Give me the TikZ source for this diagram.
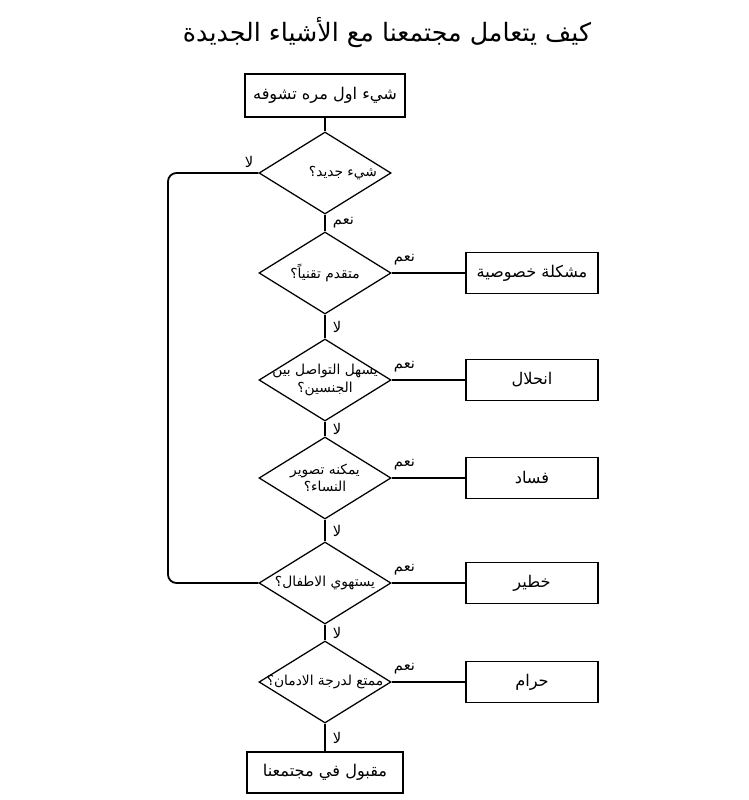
\documentclass[tikz,border=0pt]{standalone}
\usepackage{fontspec}
\newfontfamily\arabicfont[Script=Arabic]{DejaVu Sans}
\TeXXeTstate=1
\usetikzlibrary{shapes.geometric,positioning}

\begin{document}
\begin{tikzpicture}[x=0.025cm,y=-0.025cm,
		box/.style={draw,line width=0.9pt,minimum width=4cm,minimum height=1.07cm,font=\arabicfont\fontsize{11.5}{13}\selectfont},
		sidebox/.style={box,minimum width=3.3cm,minimum height=1.03cm},
		question/.style={draw,diamond,line width=0.9pt,inner sep=0pt,minimum width=3.3cm,minimum height=2.05cm},
		qtext/.style={align=center,inner sep=0pt,font=\arabicfont\fontsize{9.8}{12.5}\selectfont},
		answer/.style={inner sep=1pt,font=\arabicfont\fontsize{10.5}{12}\selectfont},
		link/.style={line width=1.3pt}]
			%%%%% START %%%%%
			\def\xmid{325}
			\def\xside{532}
			\def\xloop{168}
			\def\ystart{95.5}
			\def\yone{173}
			\def\ytwo{273}
			\def\ythree{380}
			\def\yfour{478}
			\def\yfive{583}
			\def\ysix{682}
			\def\yend{772.5}

			\useasboundingbox (0,0) rectangle (748,800);

			\node[font=\arabicfont\fontsize{18}{22}\selectfont] (title) at (387,33) {\beginR كيف يتعامل مجتمعنا مع الأشياء الجديدة\endR};

			\node[box] (start) at (\xmid,\ystart) {\beginR شيء اول مره تشوفه\endR};
			\node[question,label={[qtext,xshift=0.45cm]center:{\beginR شيء جديد؟\endR}}] (qone) at (\xmid,\yone) {};
			\node[question,label={[qtext]center:{\beginR متقدم تقنياً؟\endR}}] (qtwo) at (\xmid,\ytwo) {};
			\node[question,label={[qtext]center:{\beginR يسهل التواصل بين\endR\\\beginR الجنسين؟\endR}}] (qthree) at (\xmid,\ythree) {};
			\node[question,label={[qtext]center:{\beginR يمكنه تصوير\endR\\\beginR النساء؟\endR}}] (qfour) at (\xmid,\yfour) {};
			\node[question,label={[qtext]center:{\beginR يستهوي الاطفال؟\endR}}] (qfive) at (\xmid,\yfive) {};
			\node[question,label={[qtext]center:{\beginR ممتع لدرجة الادمان؟\endR}}] (qsix) at (\xmid,\ysix) {};
			\node[box,minimum width=3.9cm,minimum height=1.03cm] (accepted) at (\xmid,\yend) {\beginR مقبول في مجتمعنا\endR};

			\node[sidebox] (privacy) at (\xside,\ytwo) {\beginR مشكلة خصوصية\endR};
			\node[sidebox] (decay) at (\xside,\ythree) {\beginR انحلال\endR};
			\node[sidebox] (corrupt) at (\xside,\yfour) {\beginR فساد\endR};
			\node[sidebox] (danger) at (\xside,\yfive) {\beginR خطير\endR};
			\node[sidebox] (forbidden) at (\xside,\ysix) {\beginR حرام\endR};

			% main column
			\draw[link] (start) -- (qone);
			\draw[link] (qone) -- node[answer,right=4pt] {\beginR نعم\endR} (qtwo);
			\draw[link] (qtwo) -- node[answer,right=4pt] {\beginR لا\endR} (qthree);
			\draw[link] (qthree) -- node[answer,right=4pt] {\beginR لا\endR} (qfour);
			\draw[link] (qfour) -- node[answer,right=4pt] {\beginR لا\endR} (qfive);
			\draw[link] (qfive) -- node[answer,right=4pt] {\beginR لا\endR} (qsix);
			\draw[link] (qsix) -- node[answer,right=4pt] {\beginR لا\endR} (accepted);

			% yes branches
			\draw[link] (qtwo.east) -- node[answer,pos=0,anchor=south west,yshift=4pt] {\beginR نعم\endR} (privacy);
			\draw[link] (qthree.east) -- node[answer,pos=0,anchor=south west,yshift=4pt] {\beginR نعم\endR} (decay);
			\draw[link] (qfour.east) -- node[answer,pos=0,anchor=south west,yshift=4pt] {\beginR نعم\endR} (corrupt);
			\draw[link] (qfive.east) -- node[answer,pos=0,anchor=south west,yshift=4pt] {\beginR نعم\endR} (danger);
			\draw[link] (qsix.east) -- node[answer,pos=0,anchor=south west,yshift=4pt] {\beginR نعم\endR} (forbidden);

			% new thing skips straight to the children question
			\coordinate (loop) at (\xloop,\yone);
			\draw[link,rounded corners=6pt] (qone.west) -- node[answer,pos=0,anchor=south east,xshift=-2pt,yshift=2pt] {\beginR لا\endR} (loop) -- (loop |- qfive.west) -- (qfive.west);
			%%%%% END %%%%%
\end{tikzpicture}
\end{document}
